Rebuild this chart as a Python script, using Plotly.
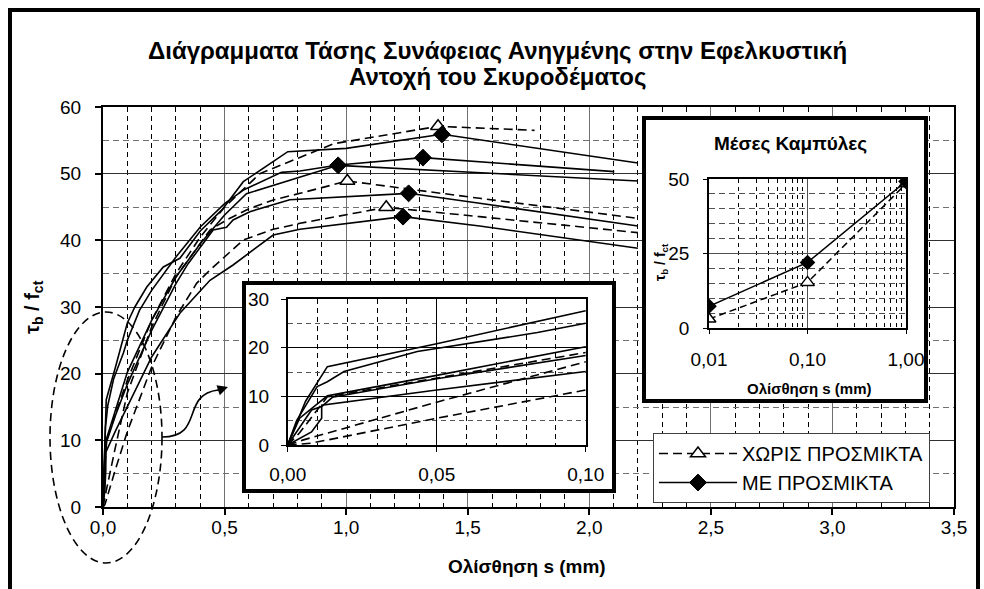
import plotly.graph_objects as go

W, H = 984, 589

# ---------------- data ----------------
# solid curves (ΜΕ ΠΡΟΣΜΙΚΤΑ)
s1_x = [0, 0.002, 0.006, 0.0133, 0.05, 0.1, 0.131, 0.18, 0.248, 0.316, 0.40, 0.49, 0.577, 0.76, 1.0, 1.394, 2.2]
s1_y = [0, 3.0, 9.0, 16.1, 20.8, 27.6, 30.0, 33.0, 36.0, 37.3, 41.4, 44.6, 48.8, 53.3, 53.8, 55.9, 51.6]
s2_x = [0, 0.003, 0.0099, 0.0133, 0.0189, 0.0435, 0.0838, 0.1, 0.15, 0.2, 0.3, 0.4, 0.5, 0.58, 0.734, 0.81, 0.967, 1.316, 2.103]
s2_y = [0, 5.0, 12.0, 13.0, 15.1, 19.2, 23.1, 25.0, 29.5, 32.5, 37.5, 42.0, 45.5, 47.6, 50.2, 50.4, 51.3, 52.4, 50.3]
s3_x = [0, 0.004, 0.0133, 0.05, 0.1, 0.2, 0.3, 0.4, 0.5, 0.59, 0.81, 0.967, 2.2]
s3_y = [0, 5.5, 10.1, 14.3, 20.2, 28.0, 34.5, 39.5, 43.8, 47.0, 49.5, 51.25, 48.9]
s4_x = [0, 0.008, 0.0114, 0.015, 0.05, 0.1, 0.2, 0.3, 0.35, 0.453, 0.508, 0.535, 0.604, 0.768, 1.257, 1.549, 2.2]
s4_y = [0, 7.2, 7.9, 9.8, 13.6, 18.4, 26.5, 33.5, 36.5, 41.55, 41.95, 43.05, 44.3, 46.1, 47.05, 45.55, 42.15]
s5_x = [0, 0.008, 0.0114, 0.0114, 0.05, 0.1, 0.2, 0.316, 0.44, 0.535, 0.70, 0.81, 1.234, 1.549, 2.2]
s5_y = [0, 2.7, 5.5, 8.2, 11.3, 15.1, 22.5, 29.05, 34.0, 36.3, 40.8, 41.65, 43.55, 42.15, 38.8]

# dashed curves (ΧΩΡΙΣ ΠΡΟΣΜΙΚΤΑ)
d1_x = [0, 0.004, 0.0133, 0.05, 0.1, 0.2, 0.3, 0.4, 0.5, 0.645, 0.768, 0.95, 1.378, 1.775]
d1_y = [0, 2.5, 9.9, 13.8, 19.0, 28.0, 35.0, 40.5, 45.0, 50.0, 51.8, 54.5, 57.1, 56.5]
d2_x = [0, 0.005, 0.05, 0.1, 0.2, 0.3, 0.44, 0.508, 0.604, 0.70, 0.81, 1.005, 1.549, 2.2]
d2_y = [0, 1.0, 8.8, 17.1, 27.0, 34.5, 41.55, 43.05, 44.8, 46.05, 47.05, 48.9, 46.3, 43.3]
d3_x = [0, 0.0077, 0.05, 0.1, 0.2, 0.3, 0.385, 0.44, 0.577, 0.70, 0.81, 1.165, 1.549, 2.2]
d3_y = [0, 0.35, 5.5, 11.3, 21.0, 28.5, 33.55, 35.55, 40.05, 41.65, 42.55, 44.95, 43.55, 41.15]

# mean curves (inset "Μέσες Καμπύλες")
mean_x = [0.01, 0.1, 1.0]
mean_me = [7.3, 22.0, 49.2]
mean_xoris = [3.0, 15.3, 48.4]

name_xoris = "ΧΩΡΙΣ ΠΡΟΣΜΙΚΤΑ"
name_me = "ΜΕ ΠΡΟΣΜΙΚΤΑ"

main_xrange = [0, 3.5]
main_yrange = [0, 60]
inset1_xrange = [0, 0.1]
inset1_yrange = [0, 30]
inset2_ticks = [0.01, 0.1, 1.0]
inset2_minor = [0.02, 0.03, 0.04, 0.05, 0.06, 0.07, 0.08, 0.09,
                0.2, 0.3, 0.4, 0.5, 0.6, 0.7, 0.8, 0.9]
inset2_yrange = [0, 50]

# ---------------- helpers ----------------
FONT = "Liberation Sans, Arial, sans-serif"


def fx(p):
    return p / W


def fy(p):
    return 1 - p / H


# main plot pixel box
MX0, MX1, MY0, MY1 = 103, 954, 107, 507


def dx(p):  # pixel -> main data x
    return (p - MX0) / (MX1 - MX0) * (main_xrange[1] - main_xrange[0])


def dy(p):  # pixel -> main data y
    return (MY1 - p) / (MY1 - MY0) * (main_yrange[1] - main_yrange[0])


DASH = "9px,5px"
solid_style = dict(color="black", width=1.6)
dash_style = dict(color="black", width=1.6, dash=DASH)
DIAMOND = dict(symbol="diamond", size=13, color="black", line=dict(color="black", width=1))
TRI = dict(symbol="triangle-up", size=13, color="white", line=dict(color="black", width=1.5))

fig = go.Figure()

solids = [(s1_x, s1_y), (s2_x, s2_y), (s3_x, s3_y), (s4_x, s4_y), (s5_x, s5_y)]
dashes = [(d1_x, d1_y), (d2_x, d2_y), (d3_x, d3_y)]

for xs, ys in dashes:
    for xa, ya in (("x", "y"), ("x2", "y2")):
        fig.add_trace(go.Scatter(x=xs, y=ys, mode="lines", line=dash_style,
                                 xaxis=xa, yaxis=ya, showlegend=False, hoverinfo="skip"))
for xs, ys in solids:
    for xa, ya in (("x", "y"), ("x2", "y2")):
        fig.add_trace(go.Scatter(x=xs, y=ys, mode="lines", line=solid_style,
                                 xaxis=xa, yaxis=ya, showlegend=False, hoverinfo="skip"))

# peak markers (legend entries come from the first of each group)
for i, (xs, ys) in enumerate(dashes):
    k = max(range(len(ys)), key=ys.__getitem__)
    fig.add_trace(go.Scatter(x=[xs[k]], y=[ys[k]], mode="lines+markers", line=dash_style,
                             marker=TRI, xaxis="x", yaxis="y", name=name_xoris,
                             showlegend=(i == 0), legendrank=1, hoverinfo="skip"))
for i, (xs, ys) in enumerate(solids):
    k = max(range(len(ys)), key=ys.__getitem__)
    fig.add_trace(go.Scatter(x=[xs[k]], y=[ys[k]], mode="lines+markers", line=solid_style,
                             marker=DIAMOND, xaxis="x", yaxis="y", name=name_me,
                             showlegend=(i == 0), legendrank=2, hoverinfo="skip"))

# mean curves inset
fig.add_trace(go.Scatter(x=mean_x, y=mean_xoris, mode="lines+markers",
                         line=dict(color="black", width=1.5, dash="7px,4px"),
                         marker=dict(symbol="triangle-up", size=12, color="white", line=dict(color="black", width=1.5)),
                         xaxis="x3", yaxis="y3", showlegend=False, hoverinfo="skip"))
fig.add_trace(go.Scatter(x=mean_x, y=mean_me, mode="lines+markers", line=dict(color="black", width=1.5),
                         marker=dict(symbol="diamond", size=12, color="black"),
                         xaxis="x3", yaxis="y3", showlegend=False, hoverinfo="skip"))

tickfont = dict(family=FONT, size=19, color="black")
common_ax = dict(showline=True, linecolor="black", mirror=True, zeroline=False, automargin=False,
                 ticks="outside", tickcolor="black", fixedrange=True, tickfont=tickfont)

layout = dict(
    template="none",
    width=W, height=H, margin=dict(l=0, r=0, t=0, b=0, pad=0, autoexpand=False),
    paper_bgcolor="white", plot_bgcolor="white",
    separators=",.",
    font=dict(family=FONT, color="black"),
    showlegend=True,
    legend=dict(x=fx(653), y=fy(433), xanchor="left", yanchor="top",
                bgcolor="white", bordercolor="#404040", borderwidth=1,
                font=dict(family=FONT, size=20, color="black"),
                itemwidth=78, tracegroupgap=0),
    xaxis=dict(domain=[fx(MX0), fx(MX1)], range=main_xrange, tick0=0, dtick=0.5, tickformat=".1f",
               showgrid=True, gridcolor="#707070", gridwidth=1,
               minor=dict(dtick=0.1, tick0=0, showgrid=True, gridcolor="black", griddash="5px,4px", gridwidth=1),
               linewidth=2, ticklen=6, tickwidth=1.5, anchor="y", ticklabelstandoff=-4, **common_ax),
    yaxis=dict(domain=[fy(MY1), fy(MY0)], range=main_yrange, tick0=0, dtick=10,
               showgrid=True, gridcolor="#303030", gridwidth=1,
               minor=dict(dtick=5, tick0=0, showgrid=True, gridcolor="#707070", griddash="6px,4px", gridwidth=1),
               linewidth=2, ticklen=6, tickwidth=1.5, anchor="x", ticklabelstandoff=10, **common_ax),
    xaxis2=dict(domain=[fx(287.7), fx(585.7)], range=inset1_xrange, tick0=0, dtick=0.05, tickformat=".2f",
                showgrid=True, gridcolor="black", gridwidth=1,
                minor=dict(dtick=0.01, tick0=0, showgrid=True, gridcolor="black", griddash="5px,4px", gridwidth=1),
                linewidth=1.5, ticklen=5, anchor="y2", ticklabelstandoff=6, **common_ax),
    yaxis2=dict(domain=[fy(445), fy(299)], range=inset1_yrange, tick0=0, dtick=10,
                showgrid=True, gridcolor="black", gridwidth=1,
                minor=dict(dtick=5, tick0=0, showgrid=True, gridcolor="#555555", griddash="5px,4px", gridwidth=1),
                linewidth=1.5, ticklen=5, anchor="x2", ticklabelstandoff=8, **common_ax),
    xaxis3=dict(domain=[fx(709), fx(906)], type="log", range=[-2, 0], tickvals=inset2_ticks, tickformat=".2f",
                showgrid=True, gridcolor="#505050", gridwidth=1,
                minor=dict(tickvals=inset2_minor, showgrid=True, gridcolor="black", griddash="4px,4px", gridwidth=1),
                linewidth=1.5, ticklen=4, anchor="y3", ticklabelstandoff=9, **common_ax),
    yaxis3=dict(domain=[fy(328), fy(179)], range=inset2_yrange, tick0=0, dtick=25,
                showgrid=True, gridcolor="#505050", gridwidth=1,
                minor=dict(dtick=5, tick0=0, showgrid=True, gridcolor="#505050", griddash="6px,4px", gridwidth=1),
                linewidth=1.5, ticklen=4, anchor="x3", ticklabelstandoff=10, **common_ax),
)
fig.update_layout(**layout)

shapes = []
# white backgrounds of the insets: between main grid and main traces
for (a, b, c, d) in [(242, 281, 616, 493), (642, 116, 928, 403)]:
    shapes.append(dict(type="rect", xref="x", yref="y", x0=dx(a), x1=dx(c), y0=dy(d), y1=dy(b),
                       fillcolor="white", line=dict(width=0), layer="between"))
# thick frames of the insets
for (a, b, c, d) in [(244, 283, 614, 491), (644, 118, 926, 401)]:
    shapes.append(dict(type="rect", xref="paper", yref="paper", x0=fx(a), x1=fx(c), y0=fy(d), y1=fy(b),
                       line=dict(color="black", width=4), fillcolor="rgba(0,0,0,0)", layer="above"))
# outer frame (left, top, right; continues past the bottom edge)
p = lambda x, y: f"{fx(x):.5f},{fy(y):.5f}"
shapes.append(dict(type="path", xref="paper", yref="paper",
                   path=f"M {p(10, 589)} L {p(10, 10)} L {p(978, 10)} L {p(978, 589)}",
                   line=dict(color="black", width=4), layer="above"))
# dashed ellipse
shapes.append(dict(type="circle", xref="paper", yref="paper", x0=fx(50), x1=fx(162), y0=fy(563), y1=fy(312),
                   line=dict(color="black", width=1.6, dash="8px,5px"), layer="above"))
# curved arrow shaft
shapes.append(dict(type="path", xref="paper", yref="paper",
                   path=f"M {p(162, 437)} C {p(205, 437)} {p(180, 395)} {p(218, 390)}",
                   line=dict(color="black", width=1.6), layer="above"))
fig.update_layout(shapes=shapes)


def label(x, y, text, size, angle=0):
    return dict(x=fx(x), y=fy(y), xref="paper", yref="paper", showarrow=False, text=text,
                xanchor="center", yanchor="middle", textangle=angle,
                font=dict(family=FONT, size=size, color="black"))


ann = [
    dict(x=fx(228), y=fy(387), xref="paper", yref="paper", text="", showarrow=True,
         ax=-12, ay=4, arrowhead=2, arrowsize=1.3, arrowwidth=1.6, arrowcolor="black", standoff=0),
    label(497, 50, "<b>Διάγραμματα Τάσης Συνάφειας Ανηγμένης στην Εφελκυστική</b>", 24),
    label(497, 76, "<b>Αντοχή του Σκυροδέματος</b>", 24),
    label(527, 566, "<b>Ολίσθηση s (mm)</b>", 19),
    label(33, 307, "<b>τ<sub>b</sub> / f<sub>ct</sub></b>", 20, -90),
    label(790, 144, "<b>Μέσες Καμπύλες</b>", 19),
    label(809, 388, "<b>Ολίσθηση s (mm)</b>", 15),
    label(661, 262, "<b>τ<sub>b</sub> / f<sub>ct</sub></b>", 14, -90),
]
fig.update_layout(annotations=ann)

fig.write_html("out.html")
